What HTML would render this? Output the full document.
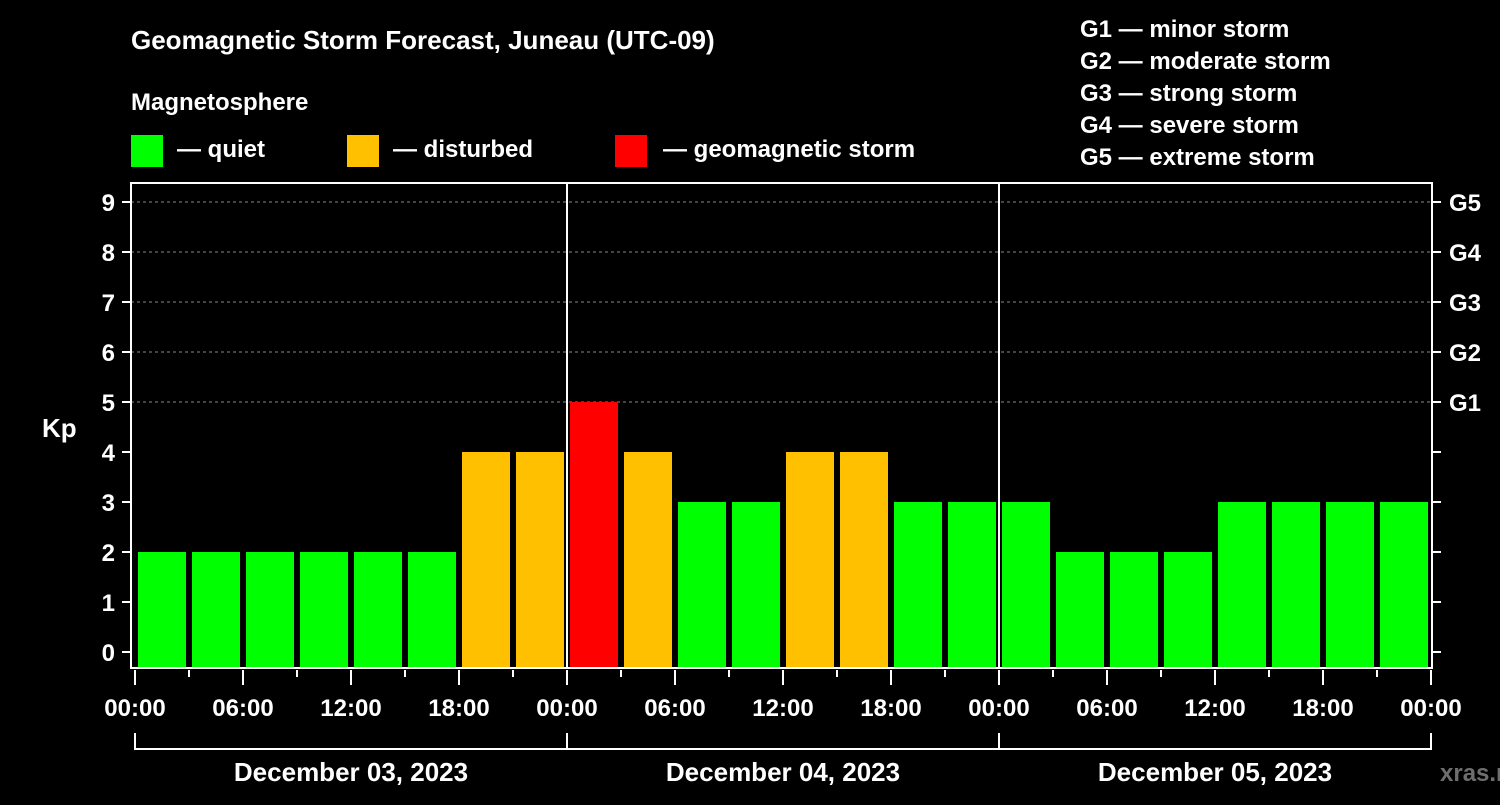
<!DOCTYPE html>
<html><head><meta charset="utf-8"><style>
body{margin:0;background:#000;width:1500px;height:800px;overflow:hidden}
svg text{font-family:"Liberation Sans",Arial,sans-serif;font-weight:bold;fill:#fff}
</style></head><body>
<svg id="c" width="1500" height="800">
<text x="131" y="49" font-size="26">Geomagnetic Storm Forecast, Juneau (UTC-09)</text>
<text x="131" y="110" font-size="24">Magnetosphere</text>
<g><rect x="131" y="135" width="32" height="32" fill="#00ff00"/><text x="177" y="157" font-size="24">— quiet</text></g>
<g><rect x="347" y="135" width="32" height="32" fill="#ffc000"/><text x="393" y="157" font-size="24">— disturbed</text></g>
<g><rect x="615" y="135" width="32" height="32" fill="#ff0000"/><text x="663" y="157" font-size="24">— geomagnetic storm</text></g>
<g font-size="24">
<text x="1080" y="37">G1 — minor storm</text><text x="1080" y="69">G2 — moderate storm</text><text x="1080" y="101">G3 — strong storm</text><text x="1080" y="133">G4 — severe storm</text><text x="1080" y="165">G5 — extreme storm</text></g>
<text x="42" y="437" font-size="26">Kp</text>
<text x="1440" y="781" font-size="24" fill="#777" style="fill:#6e6e6e">xras.ru</text>
<g id="plot"></g>
</svg>
<script>
const kpValues=[2,2,2,2,2,2,4,4,5,4,3,3,4,4,3,3,3,2,2,2,3,3,3,3];
const dayLabels=["December 03, 2023","December 04, 2023","December 05, 2023"];
const hourLabels=["00:00","06:00","12:00","18:00"];
const gLabels=["G1","G2","G3","G4","G5"];
const yTicks=[0,1,2,3,4,5,6,7,8,9];
const NS="http://www.w3.org/2000/svg";
const g=document.getElementById('plot');
const X0=135,DAY=432,L=131,R=1432,T=183,B=668;
const xs=h=>X0+h*DAY/24;
const ys=v=>652-v*50;
function el(t,a){const e=document.createElementNS(NS,t);for(const k in a)e.setAttribute(k,a[k]);g.appendChild(e);return e;}
// grid
for(let v=5;v<=9;v++){const e=el('line',{x1:L,x2:R,y1:ys(v),y2:ys(v),stroke:'#888','stroke-dasharray':'3,3','stroke-width':1});

}
// bars
kpValues.forEach((v,i)=>{const c=v>=5?'#ff0000':v>=4?'#ffc000':'#00ff00';
const x=xs(i*3)+3;const e=el('rect',{x:x,y:ys(v),width:48,height:B-ys(v),fill:c});

});
// day separators
[1,2].forEach(d=>{const e=el('line',{x1:xs(d*24),x2:xs(d*24),y1:T,y2:B,stroke:'#fff','stroke-width':2});

});
// frame
const f=el('rect',{x:L,y:T,width:R-L,height:B-T,fill:'none',stroke:'#fff','stroke-width':2});


// y ticks
yTicks.forEach(v=>{
const a=el('line',{x1:122,x2:L,y1:ys(v),y2:ys(v),stroke:'#fff','stroke-width':2});


const b=el('line',{x1:R,x2:1441,y1:ys(v),y2:ys(v),stroke:'#fff','stroke-width':2});


const t=el('text',{x:115,y:ys(v)+9,'font-size':24,'text-anchor':'end'});t.textContent=v;

});
gLabels.forEach((s,i)=>{const t=el('text',{x:1449,y:ys(5+i)+9,'font-size':24});t.textContent=s;

});
// x ticks
for(let h=0;h<=72;h+=3){const major=h%6==0;
const e=el('line',{x1:xs(h),x2:xs(h),y1:B+2,y2:major?685:677,stroke:'#fff','stroke-width':2});


if(major){const t=el('text',{x:xs(h),y:716,'font-size':24,'text-anchor':'middle'});t.textContent=hourLabels[(h%24)/6];

}}
// day brackets
const br=el('line',{x1:xs(0),x2:xs(72),y1:749,y2:749,stroke:'#fff','stroke-width':2});


for(let d=0;d<=3;d++){const e=el('line',{x1:xs(d*24),x2:xs(d*24),y1:733,y2:750,stroke:'#fff','stroke-width':2});

}
dayLabels.forEach((s,d)=>{const t=el('text',{x:xs(d*24+12),y:781,'font-size':26,'text-anchor':'middle'});t.textContent=s;

});
</script>
</body></html>
